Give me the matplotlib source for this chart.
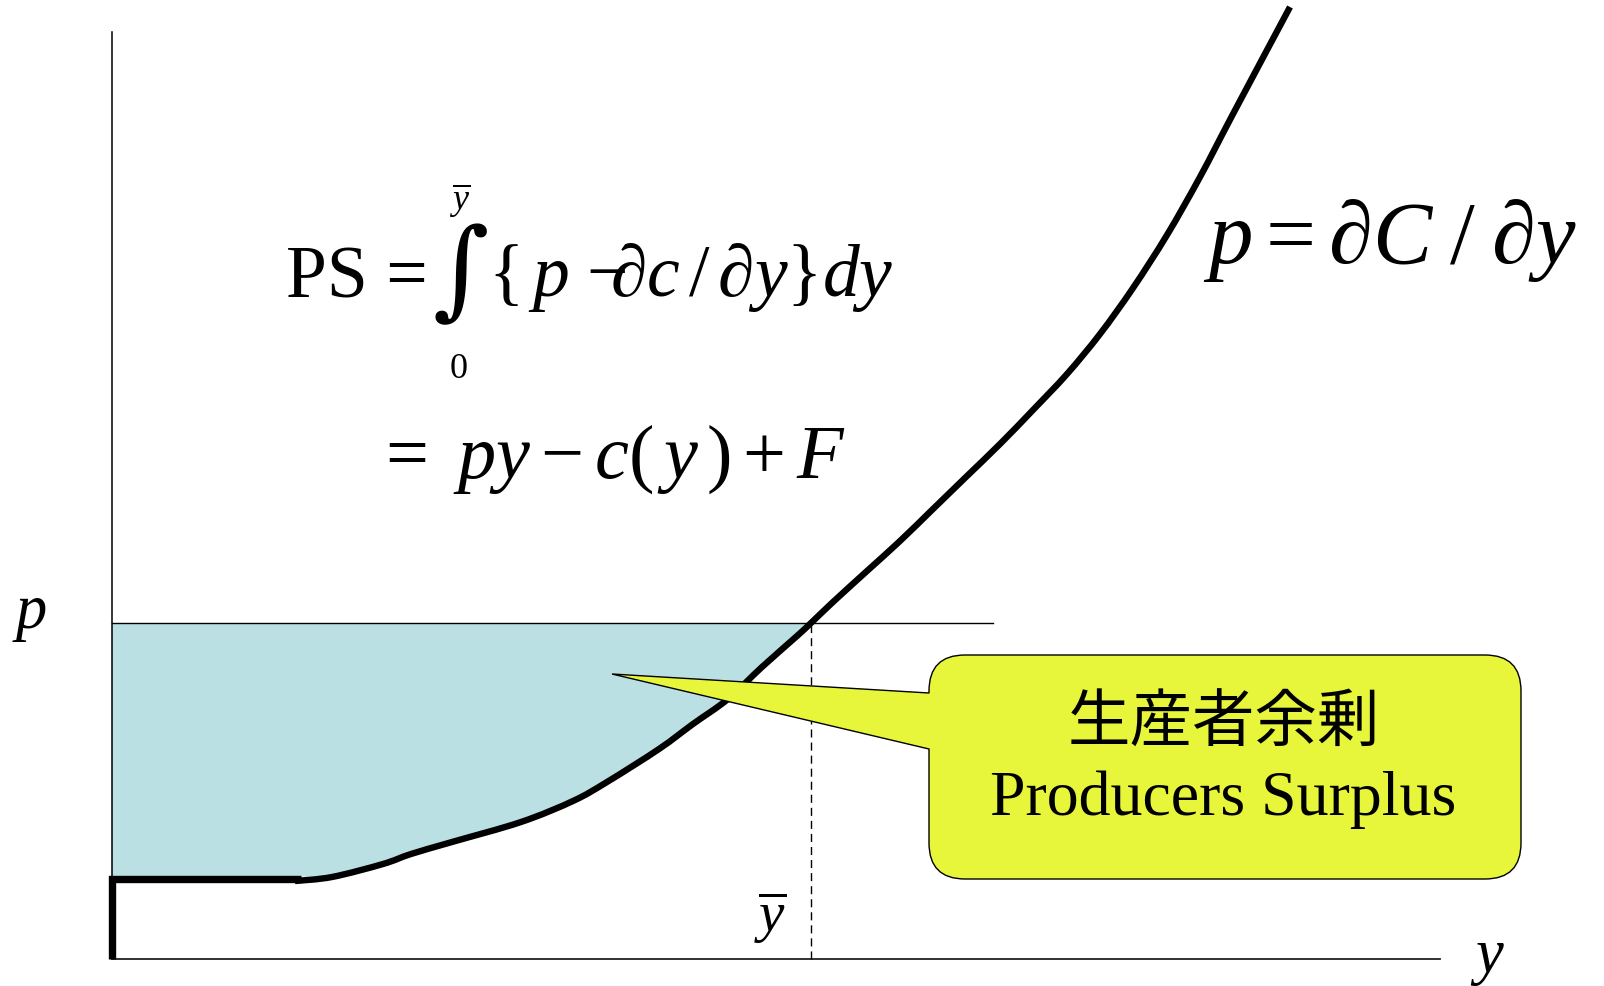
import matplotlib
matplotlib.use("Agg")
import matplotlib.pyplot as plt
from matplotlib.path import Path
from matplotlib.patches import PathPatch

plt.rcParams['mathtext.fontset'] = 'custom'
plt.rcParams['mathtext.rm'] = 'Liberation Serif'
plt.rcParams['mathtext.it'] = 'Liberation Serif:italic'
plt.rcParams['mathtext.bf'] = 'Liberation Serif:bold'
plt.rcParams['font.family'] = ['Liberation Serif', 'DejaVu Sans']

# ---- data (diagram units; origin at axes corner) ----
supply_q = [183, 220, 271, 299, 340, 409, 461, 495, 547, 581, 616, 650, 685, 699,
            721, 755, 788, 821, 855, 888, 921, 955, 988, 1021, 1055, 1088, 1121, 1178]
supply_p = [78, 82, 95, 105, 117, 137, 158, 177, 210, 235, 260, 292, 323, 336,
            357, 388, 418, 450, 483, 515, 549, 585, 625, 671, 724, 782, 845, 952]
price = 336          # market price p
y_bar = 699          # quantity supplied at p
fixed_level = 80     # shut-down level (thick segment)
x_axis_end = 1328
y_axis_end = 927
price_line_end = 881

fill_color = '#BBE0E3'
callout_color = '#E7F53B'


def smooth_parts(xs, ys):
    """Catmull-Rom curve through the given points, as cubic Bezier vertices/codes."""
    pts = list(zip(xs, ys))
    verts = [pts[0]]
    codes = [Path.MOVETO]
    n = len(pts)
    for i in range(n - 1):
        p0 = pts[i - 1] if i > 0 else pts[i]
        p1 = pts[i]
        p2 = pts[i + 1]
        p3 = pts[i + 2] if i + 2 < n else pts[i + 1]
        c1 = (p1[0] + (p2[0] - p0[0]) / 6, p1[1] + (p2[1] - p0[1]) / 6)
        c2 = (p2[0] - (p3[0] - p1[0]) / 6, p2[1] - (p3[1] - p1[1]) / 6)
        verts += [c1, c2, p2]
        codes += [Path.CURVE4] * 3
    return verts, codes


fig = plt.figure(figsize=(16.04, 9.87), dpi=100)
ax = fig.add_axes([0, 0, 1, 1])
ax.set_xlim(-112, 1492)
ax.set_ylim(-27, 960)
ax.axis('off')

# producer surplus area
floor = fixed_level + 3
in_q = [q for q in supply_q if q <= y_bar]
in_p = [max(p, floor) for q, p in zip(supply_q, supply_p) if q <= y_bar]
cv, cc = smooth_parts(in_q, in_p)
area_verts = [(0, price), (0, floor)] + cv + [(0, price)]
area_codes = [Path.MOVETO, Path.LINETO, Path.LINETO] + cc[1:] + [Path.CLOSEPOLY]
ax.add_patch(PathPatch(Path(area_verts, area_codes), facecolor=fill_color,
                       edgecolor='none', lw=0, zorder=1))

# axes
ax.plot([0, 0], [0, y_axis_end], color='black', lw=1.1, zorder=3)
ax.plot([0, x_axis_end], [0, 0], color='#222222', lw=1.3, zorder=3)
# price line
ax.plot([0, price_line_end], [price, price], color='black', lw=1.0, zorder=3)
# dashed y-bar
ax.plot([y_bar, y_bar], [0, price], color='black', lw=1.0,
        dashes=(5.8, 3.6), zorder=3)

# thick fixed-cost segment
ax.plot([0, 0, supply_q[0] + 6], [0, fixed_level, fixed_level],
        color='black', lw=5.3, solid_joinstyle='miter', solid_capstyle='butt', zorder=4)
# supply curve (smooth through the read points)
sv, sc = smooth_parts(supply_q, supply_p)
ax.add_patch(PathPatch(Path(sv, sc), facecolor='none',
                       edgecolor='black', lw=4.6, capstyle='butt', zorder=4))

# callout
L, R, B, T, r = 817, 1409, 80, 304, 36
tip = (500, 285)
base_hi, base_lo = 266, 210
verts = [(L + r, T), (R - r, T), (R, T), (R, T - r), (R, B + r), (R, B), (R - r, B),
         (L + r, B), (L, B), (L, B + r), (L, base_lo), tip, (L, base_hi),
         (L, T - r), (L, T), (L + r, T), (L + r, T)]
codes = [Path.MOVETO, Path.LINETO, Path.CURVE3, Path.CURVE3, Path.LINETO,
         Path.CURVE3, Path.CURVE3, Path.LINETO, Path.CURVE3, Path.CURVE3,
         Path.LINETO, Path.LINETO, Path.LINETO, Path.LINETO,
         Path.CURVE3, Path.CURVE3, Path.CLOSEPOLY]
ax.add_patch(PathPatch(Path(verts, codes), facecolor=callout_color,
                       edgecolor='black', lw=1.0, zorder=5))
cx = (L + R) / 2
ax.text(cx - 1, 236, '生産者余剰', fontsize=45, ha='center', va='center',
        family=['Noto Sans CJK JP', 'DejaVu Sans'], zorder=6)
ax.text(cx - 2, 145, 'Producers Surplus', fontsize=46, ha='center', va='baseline',
        family=['Liberation Serif'], zorder=6)

# formula
ax.text(174, 662, 'PS =', fontsize=53, ha='left', va='baseline')
ax.text(349, 684, '∫', fontsize=78, ha='center', va='center',
        family=['DejaVu Serif'])
ax.text(348, 750, r'$\overline{y}$', fontsize=26, ha='center', va='baseline')
ax.text(347, 582, '0', fontsize=26, ha='center', va='baseline')
ax.text(376, 664, r'$\{\,p\ {-}\!\!\partial c\,/\,\partial y\}dy$', fontsize=53,
        ha='left', va='baseline')
ax.text(262, 482, r'$=\ py - c(\,y\,) + F$', fontsize=55, ha='left', va='baseline')

ax.text(1091, 697, r'$p = \partial C\;/\;\partial y$', fontsize=64,
        ha='left', va='baseline')

# axis labels
ax.text(-82, 332, r'$p$', fontsize=45, ha='center', va='baseline')
ax.text(1375, -12, r'$y$', fontsize=45, ha='center', va='baseline')
ax.text(658, 27, r'$\overline{y}$', fontsize=41, ha='center', va='baseline')

fig.savefig('out.png', dpi=100, facecolor='white')
